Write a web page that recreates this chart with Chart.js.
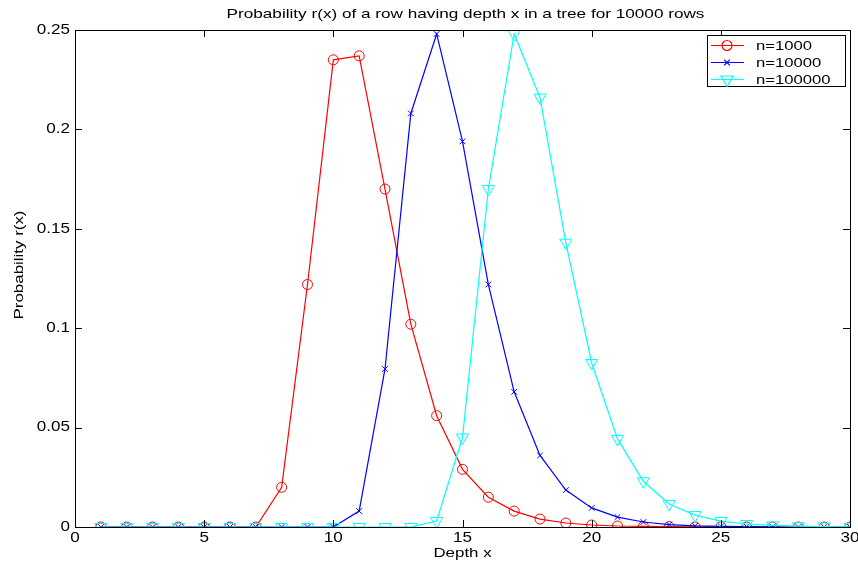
<!DOCTYPE html>
<html>
<head>
<meta charset="utf-8">
<script src="https://cdn.jsdelivr.net/npm/chart.js@4/dist/chart.umd.min.js"></script>
<style>
  html, body { margin: 0; padding: 0; background: #fff; }
  #wrap { width: 858px; height: 565px; }
</style>
</head>
<body>
<div id="wrap"><canvas id="chart"></canvas></div>
<script>
// depth x = 1..30
const depths = [1,2,3,4,5,6,7,8,9,10,11,12,13,14,15,16,17,18,19,20,21,22,23,24,25,26,27,28,29,30];
const n1000 = [0,0,0,0,0,0,0,0.020,0.122,0.235,0.237,0.170,0.102,0.056,0.029,0.015,0.008,0.004,0.002,0.001,0.0005,0.0003,0.0002,0.0001,0.0001,0,0,0,0,0];
const n10000 = [0,0,0,0,0,0,0,0,0,0,0.008,0.0795,0.208,0.248,0.194,0.122,0.068,0.036,0.0186,0.0096,0.005,0.0025,0.0012,0.0006,0.0003,0.0002,0.0001,0,0,0];
const n100000 = [0,0,0,0,0,0,0,0,0,0,0,0,0,0.003,0.045,0.170,0.248,0.216,0.143,0.0825,0.0443,0.023,0.0116,0.006,0.003,0.0015,0.0008,0.0004,0.0002,0.0001];
const xTicks = [0,5,10,15,20,25,30];
const yTicks = [0,0.05,0.1,0.15,0.2,0.25];
const seriesNames = ['n=1000','n=10000','n=100000'];

const FONT = '"Liberation Sans", Arial, sans-serif';

function toPoints(vals) {
    return depths.map((d, i) => ({x: d, y: vals[i]}));
}

function wideText(ctx, text, x, y, align, sx) {
    ctx.save();
    ctx.translate(x, y);
    ctx.scale(sx, 1);
    ctx.textAlign = align;
    ctx.fillText(text, 0, 0);
    ctx.restore();
}

const matlabFrame = {
    id: 'matlabFrame',
    afterDraw(chart) {
        const ctx = chart.ctx;
        const a = chart.chartArea;
        const xs = chart.scales.x, ys = chart.scales.y;
        ctx.save();
        ctx.strokeStyle = '#000';
        ctx.lineWidth = 1;
        ctx.strokeRect(Math.round(a.left) + 0.5, Math.round(a.top) + 0.5, Math.round(a.right - a.left), Math.round(a.bottom - a.top));

        // inward ticks on all four sides
        ctx.beginPath();
        xTicks.forEach(v => {
            const px = Math.round(xs.getPixelForValue(v)) + 0.5;
            ctx.moveTo(px, a.bottom); ctx.lineTo(px, a.bottom - 7);
            ctx.moveTo(px, a.top); ctx.lineTo(px, a.top + 7);
        });
        yTicks.forEach(v => {
            const py = Math.round(ys.getPixelForValue(v)) + 0.5;
            ctx.moveTo(a.left, py); ctx.lineTo(a.left + 7, py);
            ctx.moveTo(a.right, py); ctx.lineTo(a.right - 7, py);
        });
        ctx.stroke();

        ctx.fillStyle = '#000';
        ctx.font = '14px ' + FONT;
        ctx.textBaseline = 'middle';
        xTicks.forEach(v => {
            wideText(ctx, String(v), xs.getPixelForValue(v), a.bottom + 11, 'center', 1.22);
        });
        yTicks.forEach(v => {
            wideText(ctx, String(v), a.left - 5, ys.getPixelForValue(v), 'right', 1.22);
        });

        // title and axis labels
        ctx.font = '13px ' + FONT;
        wideText(ctx, 'Probability r(x) of a row having depth x in a tree for 10000 rows', (a.left + a.right) / 2 + 3, 14, 'center', 1.32);
        wideText(ctx, 'Depth x', (a.left + a.right) / 2, 553, 'center', 1.3);
        ctx.save();
        ctx.translate(19, 265);
        ctx.rotate(-Math.PI / 2);
        wideText(ctx, 'Probability r(x)', 0, 0, 'center', 1.3);
        ctx.restore();

        // legend box
        const lx = 707, ly = 35, lw = 138, lh = 51;
        ctx.fillStyle = '#fff';
        ctx.fillRect(lx, ly, lw, lh);
        ctx.strokeStyle = '#000';
        ctx.strokeRect(lx + 0.5, ly + 0.5, lw, lh);
        const rowsY = [45, 62, 79];
        chart.data.datasets.forEach((ds, i) => {
            const y = rowsY[i];
            ctx.strokeStyle = ds.borderColor;
            ctx.fillStyle = 'rgba(0,0,0,0)';
            ctx.lineWidth = 1.2;
            ctx.beginPath();
            ctx.moveTo(711, y + 0.5); ctx.lineTo(744, y + 0.5);
            ctx.stroke();
            Chart.helpers.drawPoint(ctx, {
                pointStyle: ds.pointStyle,
                rotation: ds.pointRotation || 0,
                radius: ds.pointRadius,
                borderWidth: 1
            }, 727, y + 0.5);
            ctx.fillStyle = '#000';
            ctx.font = '13px ' + FONT;
            ctx.textBaseline = 'middle';
            wideText(ctx, seriesNames[i], 756, y + 1, 'left', 1.28);
        });
        ctx.restore();
    }
};

new Chart(document.getElementById('chart'), {
    type: 'line',
    data: {
        datasets: [{
            label: seriesNames[0],
            data: toPoints(n1000),
            borderColor: '#ff0000',
            backgroundColor: 'rgba(0,0,0,0)',
            pointStyle: 'circle',
            pointRadius: 5,
            pointBorderWidth: 1,
            borderWidth: 1.2,
            order: 2
        }, {
            label: seriesNames[1],
            data: toPoints(n10000),
            borderColor: '#0000ff',
            backgroundColor: 'rgba(0,0,0,0)',
            pointStyle: 'crossRot',
            pointRadius: 4,
            pointBorderWidth: 1,
            borderWidth: 1.2,
            order: 1
        }, {
            label: seriesNames[2],
            data: toPoints(n100000),
            borderColor: '#00ffff',
            backgroundColor: 'rgba(0,0,0,0)',
            pointStyle: 'triangle',
            pointRotation: 180,
            pointRadius: 7,
            pointBorderWidth: 1,
            borderWidth: 1.2,
            order: 0
        }]
    },
    options: {
        responsive: true,
        maintainAspectRatio: false,
        animation: false,
        layout: { padding: { top: 30, right: 8, left: 0, bottom: 0 } },
        plugins: { legend: { display: false }, tooltip: { enabled: false }, title: { display: false } },
        elements: { line: { tension: 0 } },
        scales: {
            x: {
                type: 'linear', min: 0, max: 30,
                ticks: { display: false, stepSize: 5 },
                grid: { display: false },
                border: { display: false },
                afterFit(s) { s.height = 38; }
            },
            y: {
                min: 0, max: 0.25,
                ticks: { display: false, stepSize: 0.05 },
                grid: { display: false },
                border: { display: false },
                afterFit(s) { s.width = 75; }
            }
        }
    },
    plugins: [matlabFrame]
});
</script>
</body>
</html>
